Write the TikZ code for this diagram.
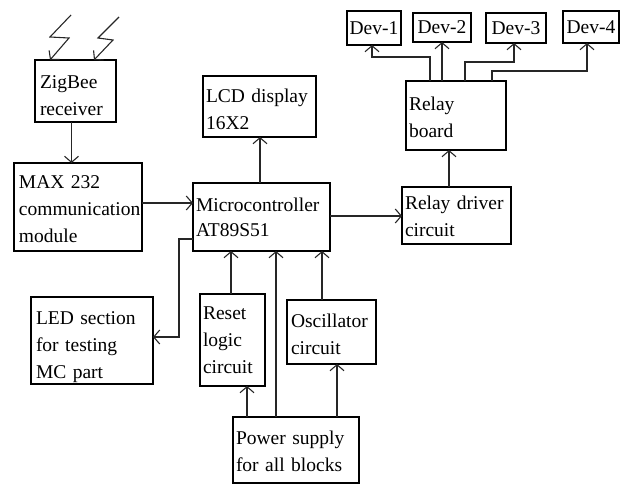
\documentclass[tikz,border=0pt]{standalone}
\usepackage{fontspec}
\setmainfont{Liberation Serif}
\usetikzlibrary{arrows.meta}
\tikzset{
  blockbox/.style={
    draw, line width=1.2pt, align=left, fill=white, inner xsep=3pt, inner ysep=0pt,
    outer sep=0pt, font=\fontsize{19.5}{27}\selectfont
  },
  devbox/.style={
    draw, line width=1.2pt, align=center, fill=white, inner sep=0pt,
    outer sep=0pt, font=\fontsize{19.5}{22}\selectfont
  },
  blockarrow/.style={
    -{Straight Barb[length=6pt,width=14pt]}, line width=1.1pt, color=black!85
  },
}
\begin{document}
\begin{tikzpicture}[x=1pt, y=-1pt]
  \useasboundingbox (0,0) rectangle (629,484);

  % Left column
  \node[blockbox, text height=23pt, minimum width=81pt, minimum height=62pt, text width=71pt]
    (zigbee) at (75.5,91) {ZigBee\\receiver};
  \node[blockbox, text height=17pt, minimum width=128pt, minimum height=88pt, text width=118pt]
    (max232) at (78,207) {MAX 232\\\mbox{communication}\\module};
  \node[blockbox, text height=27pt, minimum width=122pt, minimum height=87pt, text width=112pt]
    (led) at (92,340.5) {LED section\\for testing\\MC part};

  % Middle column
  \node[blockbox, text height=19pt, minimum width=113pt, minimum height=61pt, text width=107pt]
    (lcd) at (259.5,106.5) {LCD display\\16X2};
  \node[blockbox, minimum width=137pt, minimum height=68pt, text width=131pt]
    (micro) at (261.5,217) {Microcontroller\\[-2pt]AT89S51};
  \node[blockbox, text height=14pt, minimum width=65pt, minimum height=92pt, text width=59pt]
    (reset) at (232.5,340) {Reset\\logic\\circuit};
  \node[blockbox, text height=19pt, minimum width=89pt, minimum height=64pt, text width=81pt]
    (osc) at (331.5,332) {Oscillator\\circuit};
  \node[blockbox, text height=17pt, minimum width=126pt, minimum height=66pt, text width=120pt]
    (power) at (296,450) {Power supply\\for all blocks};

  % Right column
  \node[blockbox, text height=17pt, minimum width=100pt, minimum height=69pt, text width=94pt]
    (relay) at (456,115.5) {Relay\\board};
  \node[blockbox, text height=15pt, minimum width=109pt, minimum height=57pt, text width=103pt]
    (driver) at (456.5,215.5) {Relay driver\\circuit};

  % Devices
  \node[devbox, minimum width=54pt, minimum height=34pt] (dev1) at (374,28) {Dev-1};
  \node[devbox, minimum width=58pt, minimum height=29pt] (dev2) at (442,27.5) {Dev-2};
  \node[devbox, minimum width=60pt, minimum height=30pt] (dev3) at (516,28) {Dev-3};
  \node[devbox, minimum width=56pt, minimum height=32pt] (dev4) at (591,27) {Dev-4};

  % Wireless links
  \coordinate (bolta) at (71,15);
  \coordinate (boltb) at (119,17);
  \draw[blockarrow] (bolta) -- (50,37) -- (69,38) -- (50,60);
  \draw[blockarrow] (boltb) -- (98,38) -- (113,40) -- (94,60);

  % Signal path
  \draw[blockarrow] (zigbee.south -| 71.5,0) -- (max232.north -| 71.5,0);
  \draw[blockarrow] (max232.east |- 0,203) -- (micro.west |- 0,203);
  \draw[blockarrow] (micro.north -| 260,0) -- (lcd.south -| 260,0);
  \draw[blockarrow] (micro.east |- 0,216) -- (driver.west |- 0,216);
  \draw[blockarrow] (driver.north -| 449,0) -- (relay.south -| 449,0);
  \draw[blockarrow] (micro.west |- 0,239) -- (179,239) -- (179,337) -- (led.east |- 0,337);

  % Relay outputs
  \draw[blockarrow] (relay.north -| 430,0) -- (430,57) -- (372,57) -- (dev1.south -| 372,0);
  \draw[blockarrow] (relay.north -| 442,0) -- (dev2.south -| 442,0);
  \draw[blockarrow] (relay.north -| 465,0) -- (465,62) -- (514,62) -- (dev3.south -| 514,0);
  \draw[blockarrow] (relay.north -| 492,0) -- (492,71) -- (587,71) -- (dev4.south -| 587,0);

  % Into the microcontroller
  \draw[blockarrow] (reset.north -| 231,0) -- (micro.south -| 231,0);
  \draw[blockarrow] (power.north -| 276,0) -- (micro.south -| 276,0);
  \draw[blockarrow] (osc.north -| 322,0) -- (micro.south -| 322,0);

  % Power lines
  \draw[blockarrow] (power.north -| 247,0) -- (reset.south -| 247,0);
  \draw[blockarrow] (power.north -| 337,0) -- (osc.south -| 337,0);
\end{tikzpicture}
\end{document}
